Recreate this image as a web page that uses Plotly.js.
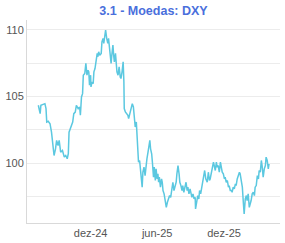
<!DOCTYPE html>
<html>
<head>
<meta charset="utf-8">
<script src="https://cdn.plot.ly/plotly-3.0.1.min.js"></script>
<style>html,body{margin:0;padding:0;background:#fff;}#chart{width:285px;height:243px;}</style>
</head>
<body>
<div id="chart"></div>
<script>
var chartTitle = "3.1 - Moedas: DXY";
var seriesName = "DXY";

var dates = [
"2024-07-11","2024-07-16","2024-07-18","2024-07-25","2024-07-29","2024-08-01","2024-08-03","2024-08-07","2024-08-12","2024-08-16",
"2024-08-21","2024-08-23","2024-08-27","2024-08-30","2024-09-03","2024-09-06","2024-09-10","2024-09-15","2024-09-20","2024-09-24",
"2024-09-28","2024-10-01","2024-10-03","2024-10-07","2024-10-10","2024-10-13","2024-10-16","2024-10-20","2024-10-23","2024-10-28",
"2024-11-01","2024-11-03","2024-11-06","2024-11-09","2024-11-11","2024-11-15","2024-11-18","2024-11-21","2024-11-24","2024-11-26",
"2024-11-28","2024-12-01","2024-12-02","2024-12-05","2024-12-08","2024-12-10","2024-12-13","2024-12-16","2024-12-19","2024-12-21",
"2024-12-23","2024-12-26","2024-12-30","2025-01-01","2025-01-04","2025-01-06","2025-01-09","2025-01-11","2025-01-14","2025-01-17",
"2025-01-19","2025-01-21","2025-01-23","2025-01-26","2025-01-28","2025-01-31","2025-02-02","2025-02-04","2025-02-07","2025-02-10",
"2025-02-11","2025-02-14","2025-02-17","2025-02-20","2025-02-22","2025-02-25","2025-02-28","2025-03-02","2025-03-03","2025-03-06",
"2025-03-09","2025-03-13","2025-03-15","2025-03-18","2025-03-22","2025-03-25","2025-03-28","2025-03-31","2025-04-02","2025-04-05",
"2025-04-07","2025-04-09","2025-04-11","2025-04-14","2025-04-16","2025-04-19","2025-04-21","2025-04-23","2025-04-26","2025-04-29",
"2025-05-01","2025-05-04","2025-05-07","2025-05-12","2025-05-14","2025-05-17","2025-05-19","2025-05-22","2025-05-24","2025-05-27",
"2025-05-29","2025-06-01","2025-06-03","2025-06-05","2025-06-07","2025-06-10","2025-06-13","2025-06-15","2025-06-17","2025-06-20",
"2025-06-23","2025-06-26","2025-06-29","2025-07-02","2025-07-05","2025-07-08","2025-07-11","2025-07-14","2025-07-17","2025-07-20",
"2025-07-23","2025-07-25","2025-07-28","2025-07-31","2025-08-02","2025-08-05","2025-08-08","2025-08-10","2025-08-13","2025-08-16",
"2025-08-19","2025-08-22","2025-08-24","2025-08-27","2025-08-30","2025-09-02","2025-09-04","2025-09-07","2025-09-10","2025-09-13",
"2025-09-14","2025-09-17","2025-09-20","2025-09-23","2025-09-25","2025-09-28","2025-10-01","2025-10-03","2025-10-06","2025-10-09",
"2025-10-12","2025-10-15","2025-10-16","2025-10-19","2025-10-22","2025-10-24","2025-10-27","2025-10-30","2025-11-02","2025-11-04",
"2025-11-07","2025-11-10","2025-11-12","2025-11-15","2025-11-18","2025-11-21","2025-11-23","2025-11-26","2025-11-29","2025-12-02",
"2025-12-04","2025-12-07","2025-12-10","2025-12-13","2025-12-15","2025-12-18","2025-12-21","2025-12-23","2025-12-26","2025-12-29",
"2026-01-01","2026-01-03","2026-01-06","2026-01-09","2026-01-12","2026-01-14","2026-01-17","2026-01-20","2026-01-23","2026-01-25",
"2026-01-28","2026-01-31","2026-02-02","2026-02-05","2026-02-08","2026-02-11","2026-02-13","2026-02-16","2026-02-19","2026-02-22",
"2026-02-24","2026-02-27","2026-03-02","2026-03-05","2026-03-07","2026-03-10","2026-03-13","2026-03-15","2026-03-18","2026-03-21",
"2026-03-24","2026-03-26","2026-03-29","2026-04-01","2026-04-03"
];

var dxy = [
104.35,103.72,104.35,104.40,104.47,104.10,103.09,103.15,102.97,102.34,
101.34,100.59,101.09,101.72,101.34,101.72,100.84,100.97,100.47,100.59,
100.35,100.72,102.34,102.60,102.85,103.09,103.72,103.84,104.35,104.10,
104.22,103.60,104.97,105.22,106.60,106.73,107.48,106.60,106.97,106.85,
105.85,106.60,105.72,106.10,105.97,106.85,107.10,107.60,108.23,107.98,
108.35,108.10,108.23,109.10,109.35,108.98,109.60,109.98,109.35,108.98,
109.35,108.85,107.85,107.48,108.10,108.85,108.10,107.60,108.23,107.35,
106.85,106.60,107.22,106.47,106.35,106.85,107.60,106.10,104.10,103.85,
103.72,103.60,103.35,103.72,104.35,104.47,104.22,103.22,102.72,103.10,
101.84,100.84,100.09,100.22,99.59,99.09,98.22,99.34,99.72,99.09,
99.84,100.34,100.84,101.72,101.09,100.72,100.09,98.97,99.72,98.72,
99.59,98.84,99.22,98.59,98.97,98.22,98.84,98.59,97.97,97.72,
97.22,96.71,97.09,97.34,97.59,97.46,98.09,98.59,97.97,98.22,
98.59,99.22,99.84,99.22,98.59,98.34,97.97,98.34,97.84,98.22,
98.59,97.97,98.22,97.72,98.09,97.72,97.46,97.72,97.34,97.46,
96.59,97.09,97.59,97.34,97.97,97.72,98.22,98.47,99.22,99.47,
98.84,98.72,98.59,99.34,98.72,98.84,99.22,99.72,100.09,99.84,
99.47,100.09,99.72,99.84,99.34,100.09,99.59,99.34,99.22,98.84,
98.97,98.59,98.72,98.22,98.34,97.97,97.97,97.84,98.22,98.09,
98.47,98.34,98.84,99.09,99.34,99.22,98.72,98.22,96.96,96.21,
97.34,97.59,97.22,97.72,96.71,96.96,97.22,97.72,97.84,97.59,
98.22,98.34,99.09,98.84,99.47,99.34,100.22,99.84,98.97,99.59,
99.84,100.47,100.22,99.59,99.97
];

var xTickVals = ["2024-12-01","2025-06-01","2025-12-01"];
var xTickText = ["dez-24","jun-25","dez-25"];
var yTickVals = [97.5,100,102.5,105,107.5,110];
var yTickText = ["","100","","105","","110"];

var trace = {
  x: dates, y: dxy, type: "scatter", mode: "lines", name: seriesName,
  line: {color: "#5bc8e0", width: 1.5}, hoverinfo: "x+y"
};

var layout = {
  width: 285, height: 243,
  margin: {l: 27, r: 5, t: 20, b: 20},
  paper_bgcolor: "#ffffff", plot_bgcolor: "#ffffff",
  font: {family: "Liberation Sans, Arial, sans-serif", size: 11, color: "#555555"},
  showlegend: false,
  title: {
    text: "<b>" + chartTitle + "</b>",
    font: {family: "Liberation Sans, Arial, sans-serif", size: 12.5, color: "#4a6fdc"},
    x: 0.5, xref: "paper", xanchor: "center",
    y: 0.957, yref: "container", yanchor: "middle"
  },
  xaxis: {
    type: "date",
    range: ["2024-06-10", "2026-05-03"],
    tickmode: "array", tickvals: xTickVals, ticktext: xTickText,
    showgrid: false, zeroline: false,
    showline: true, linecolor: "#d9d9d9", linewidth: 1,
    ticks: "", tickfont: {size: 11, color: "#555555"}
  },
  yaxis: {
    range: [95.54, 110.73],
    tickmode: "array", tickvals: yTickVals, ticktext: yTickText,
    showgrid: true, gridcolor: "#ececec", gridwidth: 1, zeroline: false,
    showline: true, linecolor: "#d9d9d9", linewidth: 1,
    ticks: "", tickfont: {size: 11, color: "#555555"}
  }
};

Plotly.newPlot("chart", [trace], layout, {displayModeBar: false, staticPlot: true});
</script>
</body>
</html>
